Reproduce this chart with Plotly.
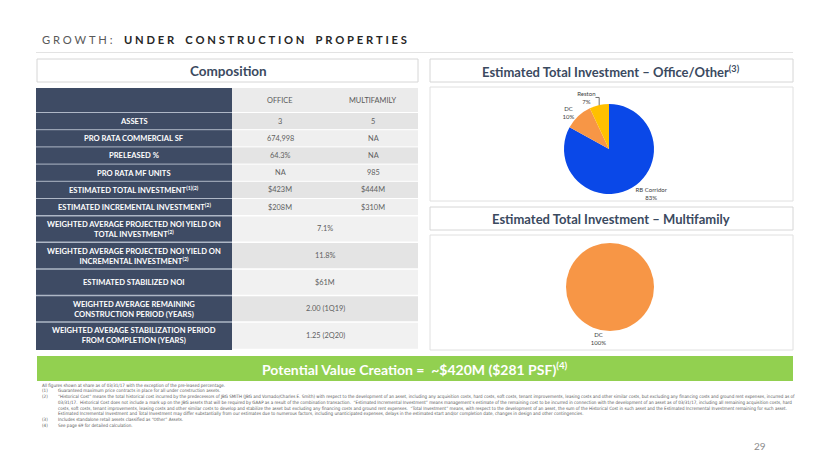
import plotly.graph_objects as go

# ---------------- data ----------------
title_light = "GROWTH:"
title_bold = "UNDER CONSTRUCTION PROPERTIES"

column_headers = ["OFFICE", "MULTIFAMILY"]
row_labels = [
    "ASSETS",
    "PRO RATA COMMERCIAL SF",
    "PRELEASED %",
    "PRO RATA MF UNITS",
    "ESTIMATED TOTAL INVESTMENT<sup>(1)(2)</sup>",
    "ESTIMATED INCREMENTAL INVESTMENT<sup>(2)</sup>",
]
office_values = ["3", "674,998", "64.3%", "NA", "$423M", "$208M"]
multifamily_values = ["5", "NA", "NA", "985", "$444M", "$310M"]

combined_labels = [
    "WEIGHTED AVERAGE PROJECTED NOI YIELD ON<br>TOTAL INVESTMENT<sup>(2)</sup>",
    "WEIGHTED AVERAGE PROJECTED NOI YIELD ON<br>INCREMENTAL INVESTMENT<sup>(2)</sup>",
    "ESTIMATED STABILIZED NOI",
    "WEIGHTED AVERAGE REMAINING<br>CONSTRUCTION PERIOD (YEARS)",
    "WEIGHTED AVERAGE STABILIZATION PERIOD<br>FROM COMPLETION (YEARS)",
]
combined_values = ["7.1%", "11.8%", "$61M", "2.00 (1Q19)", "1.25 (2Q20)"]

office_pie_labels = ["RB Corridor", "DC", "Reston"]
office_pie_values = [83, 10, 7]
mf_pie_labels = ["DC"]
mf_pie_values = [100]

value_creation = "Potential Value Creation =  ~$420M ($281 PSF)<sup>(4)</sup>"

footnote_intro = "All figures shown at share as of 03/31/17 with the exception of the pre-leased percentage."
footnote_marks = ["(1)", "(2)", "", "", "", "(3)", "(4)"]
footnote_lines = [
    "Guaranteed maximum price contracts in place for all under construction assets.",
    "\u201cHistorical Cost\u201d means the total historical cost incurred by the predecessors of JBG SMITH (JBG and Vornado/Charles E. Smith) with respect to the development of an asset, including any acquisition costs, hard costs, soft costs, tenant improvements, leasing costs and other similar costs, but excluding any financing costs and ground rent expenses, incurred as of",
    "03/31/17.  Historical Cost does not include a mark up on the JBG assets that will be required by GAAP as a result of the combination transaction.  \u201cEstimated Incremental Investment\u201d means management\u2019s estimate of the remaining cost to be incurred in connection with the development of an asset as of 03/31/17, including all remaining acquisition costs, hard",
    "costs, soft costs, tenant improvements, leasing costs and other similar costs to develop and stabilize the asset but excluding any financing costs and ground rent expenses.  \u201cTotal Investment\u201d means, with respect to the development of an asset, the sum of the Historical Cost in such asset and the Estimated Incremental Investment remaining for such asset.",
    "Estimated Incremental Investment and Total Investment may differ substantially from our estimates due to numerous factors, including unanticipated expenses, delays in the estimated start and/or completion date, changes in design and other contingencies.",
    "Includes standalone retail assets classified as \u201cOther\u201d Assets.",
    "See page 69 for detailed calculation.",
]
page_number = "29"

# ---------------- layout helpers ----------------
W, H = 830, 467
FONT = "Lato, 'Open Sans', sans-serif"
NOTE_FONT = "'Liberation Sans Narrow', 'DejaVu Sans Condensed', Lato, sans-serif"
NAVY = "#3e4b64"
SLATE = "#3b4a5f"


def px(x):
    return x / W


def py(y):
    return 1 - y / H


shapes = []
annotations = []


def rect(x0, y0, x1, y1, fill, line="rgba(0,0,0,0)", lw=1):
    shapes.append(dict(type="rect", xref="paper", yref="paper",
                       x0=px(x0), x1=px(x1), y0=py(y1), y1=py(y0),
                       fillcolor=fill, line=dict(color=line, width=lw), layer="below"))


def hline(x0, x1, y, color, lw=1):
    shapes.append(dict(type="line", xref="paper", yref="paper",
                       x0=px(x0), x1=px(x1), y0=py(y), y1=py(y),
                       line=dict(color=color, width=lw)))


def text(x, y, s, size, color, xanchor="center", bold=False, family=FONT):
    if bold:
        s = "<b>" + s.replace("<br>", "</b><br><b>") + "</b>"
    annotations.append(dict(xref="paper", yref="paper", x=px(x), y=py(y), text=s,
                            showarrow=False, xanchor=xanchor, yanchor="middle",
                            align="center" if xanchor == "center" else "left",
                            font=dict(family=family, size=size, color=color)))


def spaced(s):
    return "\u2009\u2009".join("\u00a0\u00a0" if c == " " else c for c in s)


# ---------------- title ----------------
annotations.append(dict(xref="paper", yref="paper", x=px(40), y=py(40), showarrow=False,
                        xanchor="left", yanchor="middle",
                        text=f"<span style='color:#595959'>{spaced(title_light)}</span>\u00a0\u00a0\u00a0\u00a0"
                             f"<b>{spaced(title_bold)}</b>",
                        font=dict(family=FONT, size=11.2, color="#262626")))
hline(36, 793, 52.5, "#e3e3e3", 1)

# ---------------- header boxes ----------------
rect(37, 59, 418, 82, "white", "#d6d6d6")
text(228, 71, "Composition", 13.5, SLATE, bold=True)
rect(430, 59, 793, 82, "white", "#d6d6d6")
text(611, 71, "Estimated Total Investment \u2013 Office/Other<sup>(3)</sup>", 13, SLATE, bold=True)
rect(430, 207, 793, 230, "white", "#d6d6d6")
text(611, 219, "Estimated Total Investment \u2013 Multifamily", 13, SLATE, bold=True)

rect(430, 87, 793, 201, "white", "#e0e0e0")
rect(430, 235, 793, 350, "white", "#e0e0e0")

# ---------------- table ----------------
LX0, LX1, C1, RX = 36, 232, 328, 418
header_top, header_bot = 88, 112.5
single_h = 17.2
double_h = 26.6
LBL = 7.6
VAL = 7.4
rect(LX0, header_top, LX1, 350, NAVY)
rect(LX1, header_top, RX, header_bot, "#ebebeb")
text((LX1 + C1) / 2, (header_top + header_bot) / 2, column_headers[0], VAL, "#595959")
text((C1 + RX) / 2, (header_top + header_bot) / 2, column_headers[1], VAL, "#595959")

y = header_bot
shade = ["#e4e4e4", "#efefef"]
for i, lab in enumerate(row_labels):
    y0, y1 = y, y + single_h
    rect(LX1, y0, RX, y1, shade[i % 2])
    hline(LX0, LX1, y0, "#aeb7c6", 1)
    hline(LX1, RX, y0, "white", 1)
    cy = (y0 + y1) / 2
    text((LX0 + LX1) / 2, cy, lab, LBL, "white", bold=True)
    text((LX1 + C1) / 2, cy, office_values[i], VAL, "#5f5f5f")
    text((C1 + RX) / 2, cy, multifamily_values[i], VAL, "#5f5f5f")
    y = y1

for j, lab in enumerate(combined_labels):
    y0, y1 = y, y + double_h
    rect(LX1, y0, RX, y1, ["#f1f1f1", "#e4e4e4"][j % 2])
    hline(LX0, LX1, y0, "#aeb7c6", 1.5)
    hline(LX1, RX, y0, "white", 1.5)
    cy = (y0 + y1) / 2
    text((LX0 + LX1) / 2, cy, lab, LBL, "white", bold=True)
    text((LX1 + RX) / 2, cy, combined_values[j], VAL, "#5f5f5f")
    y = y1

# ---------------- value creation bar ----------------
rect(37, 356, 793, 381, "#92d050")
text(415, 368.5, value_creation, 14, "white", bold=True)

# ---------------- footnotes ----------------
fy = 385
NS = 4.5
text(40, fy, footnote_intro, NS, "#595959", xanchor="left", family=NOTE_FONT)
for k, (mark, line) in enumerate(zip(footnote_marks, footnote_lines)):
    yy = fy + 5.75 * (k + 1)
    if mark:
        text(40, yy, mark, NS, "#595959", xanchor="left", family=NOTE_FONT)
    text(56, yy, line, NS, "#595959", xanchor="left", family=NOTE_FONT)

text(760, 446, page_number, 10, "#8c8c8c")

# ---------------- pies ----------------
fig = go.Figure()
fig.add_trace(go.Pie(
    labels=office_pie_labels, values=office_pie_values, sort=False,
    direction="clockwise", rotation=0,
    marker=dict(colors=["#0a48e8", "#f79646", "#ffc000"], line=dict(width=0)),
    texttemplate="%{label}<br>%{percent:.0%}", textposition="outside",
    textfont=dict(family=FONT, size=6, color="#404040"),
    domain=dict(x=[px(564), px(654)], y=[py(194), py(104)]),
    showlegend=False, hoverinfo="label+percent"))
fig.add_trace(go.Pie(
    labels=mf_pie_labels, values=mf_pie_values, sort=False,
    direction="clockwise", rotation=0,
    marker=dict(colors=["#f79646"], line=dict(width=0)),
    texttemplate="%{label}<br>%{percent:.0%}", textposition="outside",
    textfont=dict(family=FONT, size=6, color="#404040"),
    domain=dict(x=[px(566), px(654)], y=[py(331), py(243)]),
    showlegend=False, hoverinfo="label+percent"))

fig.update_layout(width=W, height=H, margin=dict(l=0, r=0, t=0, b=0),
                  paper_bgcolor="white", plot_bgcolor="white",
                  shapes=shapes, annotations=annotations,
                  font=dict(family=FONT))
fig.write_html("out.html", config={"displayModeBar": False},
               post_script="document.body.style.margin='0';")
